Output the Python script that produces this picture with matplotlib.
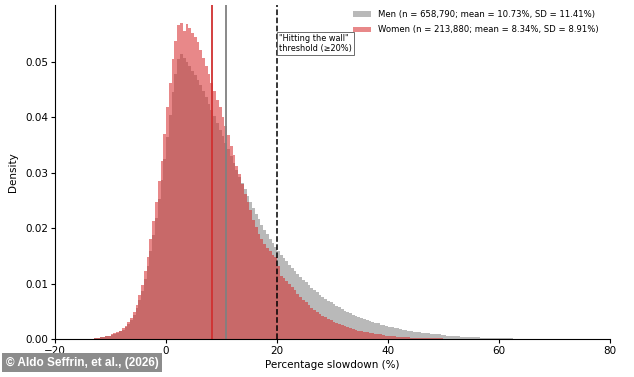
import numpy as np
import matplotlib
matplotlib.use('Agg')
import matplotlib.pyplot as plt

# histogram bins: 0.5 % wide, starting at -13 %
bin_start = -13.0
bin_width = 0.5

# density per bin, men
men = [
    0.0001, 0.0002, 0.0003, 0.0004, 0.0005, 0.0006, 0.0007, 0.0009, 0.0011, 0.0014,
    0.0017, 0.0021, 0.0027, 0.0034, 0.0043, 0.0055, 0.0070, 0.0087, 0.0108, 0.0131,
    0.0158, 0.0187, 0.0218, 0.0252, 0.0286, 0.0325, 0.0365, 0.0405, 0.0445, 0.0478,
    0.0505, 0.0514, 0.0508, 0.0500, 0.0492, 0.0484, 0.0476, 0.0467, 0.0458, 0.0447,
    0.0436, 0.0425, 0.0414, 0.0402, 0.0390, 0.0378, 0.0366, 0.0354, 0.0342, 0.0330,
    0.0317, 0.0305, 0.0293, 0.0281, 0.0270, 0.0258, 0.0247, 0.0236, 0.0226, 0.0216,
    0.0206, 0.0197, 0.0189, 0.0181, 0.0173, 0.0166, 0.0159, 0.0152, 0.0146, 0.0140,
    0.0134, 0.0128, 0.0122, 0.0117, 0.0112, 0.0107, 0.0102, 0.0097, 0.0092, 0.0088,
    0.0084, 0.0080, 0.0076, 0.0072, 0.0069, 0.0066, 0.0063, 0.0060, 0.0057, 0.0054,
    0.0051, 0.0049, 0.0046, 0.0044, 0.0042, 0.0040, 0.0038, 0.0036, 0.0034, 0.0032,
    0.0031, 0.0029, 0.0028, 0.0026, 0.0025, 0.0024, 0.0022, 0.0021, 0.0020, 0.0019,
    0.0018, 0.0017, 0.0016, 0.0015, 0.0014, 0.0013, 0.0013, 0.0012, 0.0011, 0.0011,
    0.0010, 0.0009, 0.0009, 0.0008, 0.0008, 0.0007, 0.0007, 0.0006, 0.0006, 0.0005,
    0.0005, 0.0005, 0.0004, 0.0004, 0.0004, 0.0003, 0.0003, 0.0003, 0.0003, 0.0002,
    0.0002, 0.0002, 0.0002, 0.0002, 0.0001, 0.0001, 0.0001, 0.0001, 0.0001, 0.0001,
    0.00008, 0.00006, 0.00005, 0.00004, 0.00003, 0.00002,
]

# density per bin, women
women = [
    0.0001, 0.0002, 0.0003, 0.0004, 0.0005, 0.0006, 0.0008, 0.0010, 0.0012, 0.0015,
    0.0019, 0.0024, 0.0030, 0.0038, 0.0048, 0.0062, 0.0080, 0.0098, 0.0122, 0.0148,
    0.0180, 0.0212, 0.0248, 0.0285, 0.0322, 0.0370, 0.0418, 0.0462, 0.0505, 0.0538,
    0.0566, 0.0570, 0.0555, 0.0568, 0.0562, 0.0552, 0.0545, 0.0536, 0.0522, 0.0508,
    0.0492, 0.0478, 0.0462, 0.0448, 0.0432, 0.0418, 0.0400, 0.0385, 0.0368, 0.0348,
    0.0332, 0.0312, 0.0298, 0.0280, 0.0262, 0.0248, 0.0232, 0.0215, 0.0202, 0.0190,
    0.0180, 0.0172, 0.0165, 0.0158, 0.0152, 0.0148, 0.0132, 0.0114, 0.0110, 0.0104,
    0.0099, 0.0094, 0.0088, 0.0082, 0.0076, 0.0071, 0.0066, 0.0061, 0.0056, 0.0052,
    0.0048, 0.0045, 0.0042, 0.0039, 0.0036, 0.0034, 0.0031, 0.0029, 0.0027, 0.0025,
    0.0023, 0.0021, 0.0019, 0.0018, 0.0016, 0.0015, 0.0014, 0.0013, 0.0012, 0.0011,
    0.0010, 0.0009, 0.0008, 0.0008, 0.0007, 0.0006, 0.0006, 0.0005, 0.0005, 0.0004,
    0.0004, 0.0003, 0.0003, 0.0003, 0.0002, 0.0002, 0.0002, 0.0002, 0.00015, 0.00015,
    0.0001, 0.0001, 0.0001, 0.0001, 0.00008, 0.00008, 0.00006, 0.00006, 0.00005, 0.00005,
    0.00004, 0.00004, 0.00003, 0.00003, 0.00002, 0.00002, 0.00002, 0.00001, 0.00001, 0.00001,
    0.0, 0.0, 0.0, 0.0, 0.0, 0.0, 0.0, 0.0, 0.0, 0.0,
    0.0, 0.0, 0.0, 0.0, 0.0, 0.0,
]

men_mean = 10.73
women_mean = 8.34
threshold = 20

men_label = 'Men (n = 658,790; mean = 10.73%, SD = 11.41%)'
women_label = 'Women (n = 213,880; mean = 8.34%, SD = 8.91%)'

edges = bin_start + bin_width * np.arange(len(men) + 1)

fig = plt.figure(figsize=(6.34, 3.77), dpi=100)
ax = fig.add_axes([0.087, 0.101, 0.875, 0.886])

ax.stairs(men, edges, fill=True, color='gray', alpha=0.55, linewidth=0, label=men_label)
ax.stairs(women, edges, fill=True, color='#d62728', alpha=0.55, linewidth=0, label=women_label)

ax.axvline(women_mean, color='#d03030', linewidth=1.3)
ax.axvline(men_mean, color='#808080', linewidth=1.3)
ax.axvline(threshold, color='black', linestyle='--', linewidth=1.1)

ax.text(threshold + 0.3, 0.0533, '"Hitting the wall"\nthreshold (\u226520%)', fontsize=5.9,
        va='center', ha='left', linespacing=1.1,
        bbox=dict(boxstyle='square,pad=0.25', facecolor='white', edgecolor='#555555', linewidth=0.6))

ax.set_xlim(-20, 80)
ax.set_ylim(0, 0.0603)
ax.set_yticks([0, 0.01, 0.02, 0.03, 0.04, 0.05])
ax.set_xlabel('Percentage slowdown (%)', fontsize=7.5, labelpad=3)
ax.set_ylabel('Density', fontsize=7.5, labelpad=5)
ax.tick_params(labelsize=7.5, length=3, pad=2)
ax.spines['top'].set_visible(False)
ax.spines['right'].set_visible(False)

ax.legend(loc='upper right', frameon=False, fontsize=6.1, handlelength=2.1,
          handleheight=0.6, handletextpad=0.8, borderaxespad=0.0, labelspacing=0.75,
          bbox_to_anchor=(0.985, 0.995))

fig.text(0.009, 0.022, '\u00a9 Aldo Seffrin, et al., (2026)', color='white', fontsize=8.5,
         fontweight='bold', ha='left', va='bottom',
         family=['Liberation Sans', 'DejaVu Sans'],
         bbox=dict(boxstyle='square,pad=0.3', facecolor='#8c8c8c', edgecolor='none'))

fig.savefig('out.png', dpi=100)
